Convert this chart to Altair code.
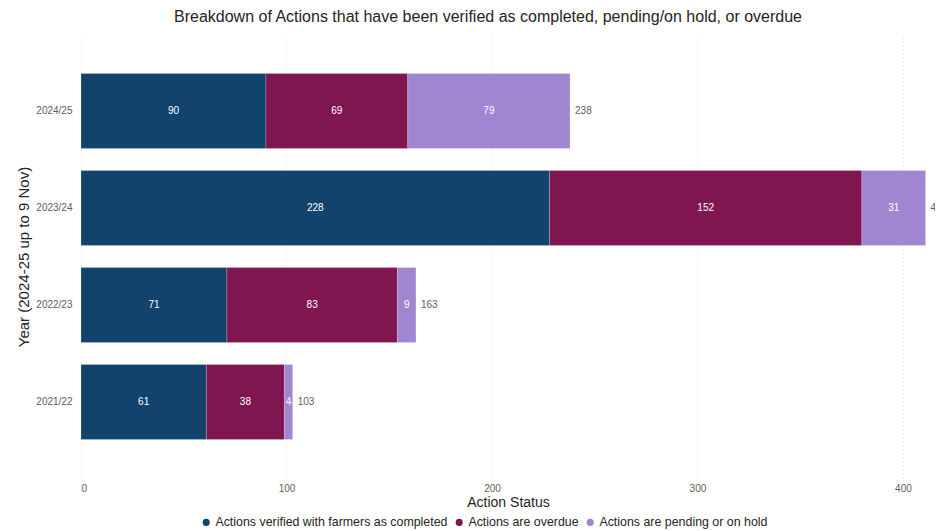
import altair as alt
import pandas as pd

years = ["2024/25", "2023/24", "2022/23", "2021/22"]
completed = [90, 228, 71, 61]
overdue = [69, 152, 83, 38]
pending = [79, 31, 9, 4]

statuses = [
    "Actions verified with farmers as completed",
    "Actions are overdue",
    "Actions are pending or on hold",
]
colors = ["#12436D", "#801650", "#A285D1"]
x_ticks = [0, 100, 200, 300, 400]

rows = []
for i, y in enumerate(years):
    for k, (s, vals) in enumerate(zip(statuses, [completed, overdue, pending])):
        rows.append({"year": y, "status": s, "value": vals[i], "order": k})
df = pd.DataFrame(rows)

FONT = "Liberation Sans"
W, H = 854, 443
XMAX = 415.6

xscale = alt.Scale(domain=[0, XMAX], nice=False, zero=True)
yscale = alt.Scale(domain=years, paddingInner=0.227, paddingOuter=0.397)

base = alt.Chart(df)

bars = base.mark_bar(stroke="#ffffff", strokeWidth=0.4, strokeOpacity=0.5).encode(
    y=alt.Y("year:N", scale=yscale, sort=years,
            title="Year (2024-25 up to 9 Nov)",
            axis=alt.Axis(labelFontSize=10, labelColor="#605E5C", labelPadding=9,
                          titleFontSize=15, titleColor="#252423", titleFontWeight="normal",
                          titlePadding=4, ticks=False, domain=False, grid=False,
                          labelFont=FONT, titleFont=FONT)),
    x=alt.X("sum(value):Q", stack="zero", scale=xscale, title="Action Status",
            axis=alt.Axis(values=x_ticks, labelFontSize=10, labelColor="#605E5C",
                          labelPadding=5, titleFontSize=14, titleColor="#252423",
                          titleFontWeight="normal", titlePadding=2, ticks=False,
                          domain=False, grid=True, gridColor="#d6d6d6",
                          gridDash=[1, 3], gridWidth=1, labelFont=FONT, titleFont=FONT)),
    color=alt.Color("status:N", scale=alt.Scale(domain=statuses, range=colors),
                    sort=statuses,
                    legend=alt.Legend(title=None, orient="none", direction="horizontal",
                                      legendX=119, legendY=481, symbolType="circle",
                                      symbolSize=50, labelFontSize=12.4,
                                      labelColor="#252423", labelOffset=3,
                                      columnPadding=5, labelFont=FONT, labelLimit=0,
                                      symbolStrokeWidth=0)),
    order=alt.Order("order:Q", sort="ascending"),
)

seg_labels = base.transform_stack(
    stack="value", groupby=["year"], as_=["x0", "x1"],
    sort=[alt.SortField("order", order="ascending")],
).transform_calculate(
    mid="(datum.x0 + datum.x1) / 2"
).mark_text(color="white", fontSize=10, font=FONT).encode(
    y=alt.Y("year:N", scale=yscale, sort=years),
    x=alt.X("mid:Q", scale=xscale),
    text=alt.Text("value:Q"),
)

totals = base.transform_aggregate(
    total="sum(value)", groupby=["year"]
).mark_text(color="#605E5C", fontSize=10, align="left", dx=5, font=FONT).encode(
    y=alt.Y("year:N", scale=yscale, sort=years),
    x=alt.X("total:Q", scale=xscale),
    text=alt.Text("total:Q"),
)

chart = alt.layer(bars, seg_labels, totals).properties(
    width=W, height=H,
    title=alt.TitleParams(
        "Breakdown of Actions that have been verified as completed, pending/on hold, or overdue",
        fontSize=16, font=FONT, fontWeight="normal", color="#252423",
        anchor="middle", dx=-20, offset=10,
    ),
    autosize=alt.AutoSizeParams(type="none"),
    padding={"left": 73, "top": 27, "right": 0, "bottom": 53},
).configure_view(stroke=None)

chart.save("out.html", embed_options={"renderer": "svg", "actions": False})
